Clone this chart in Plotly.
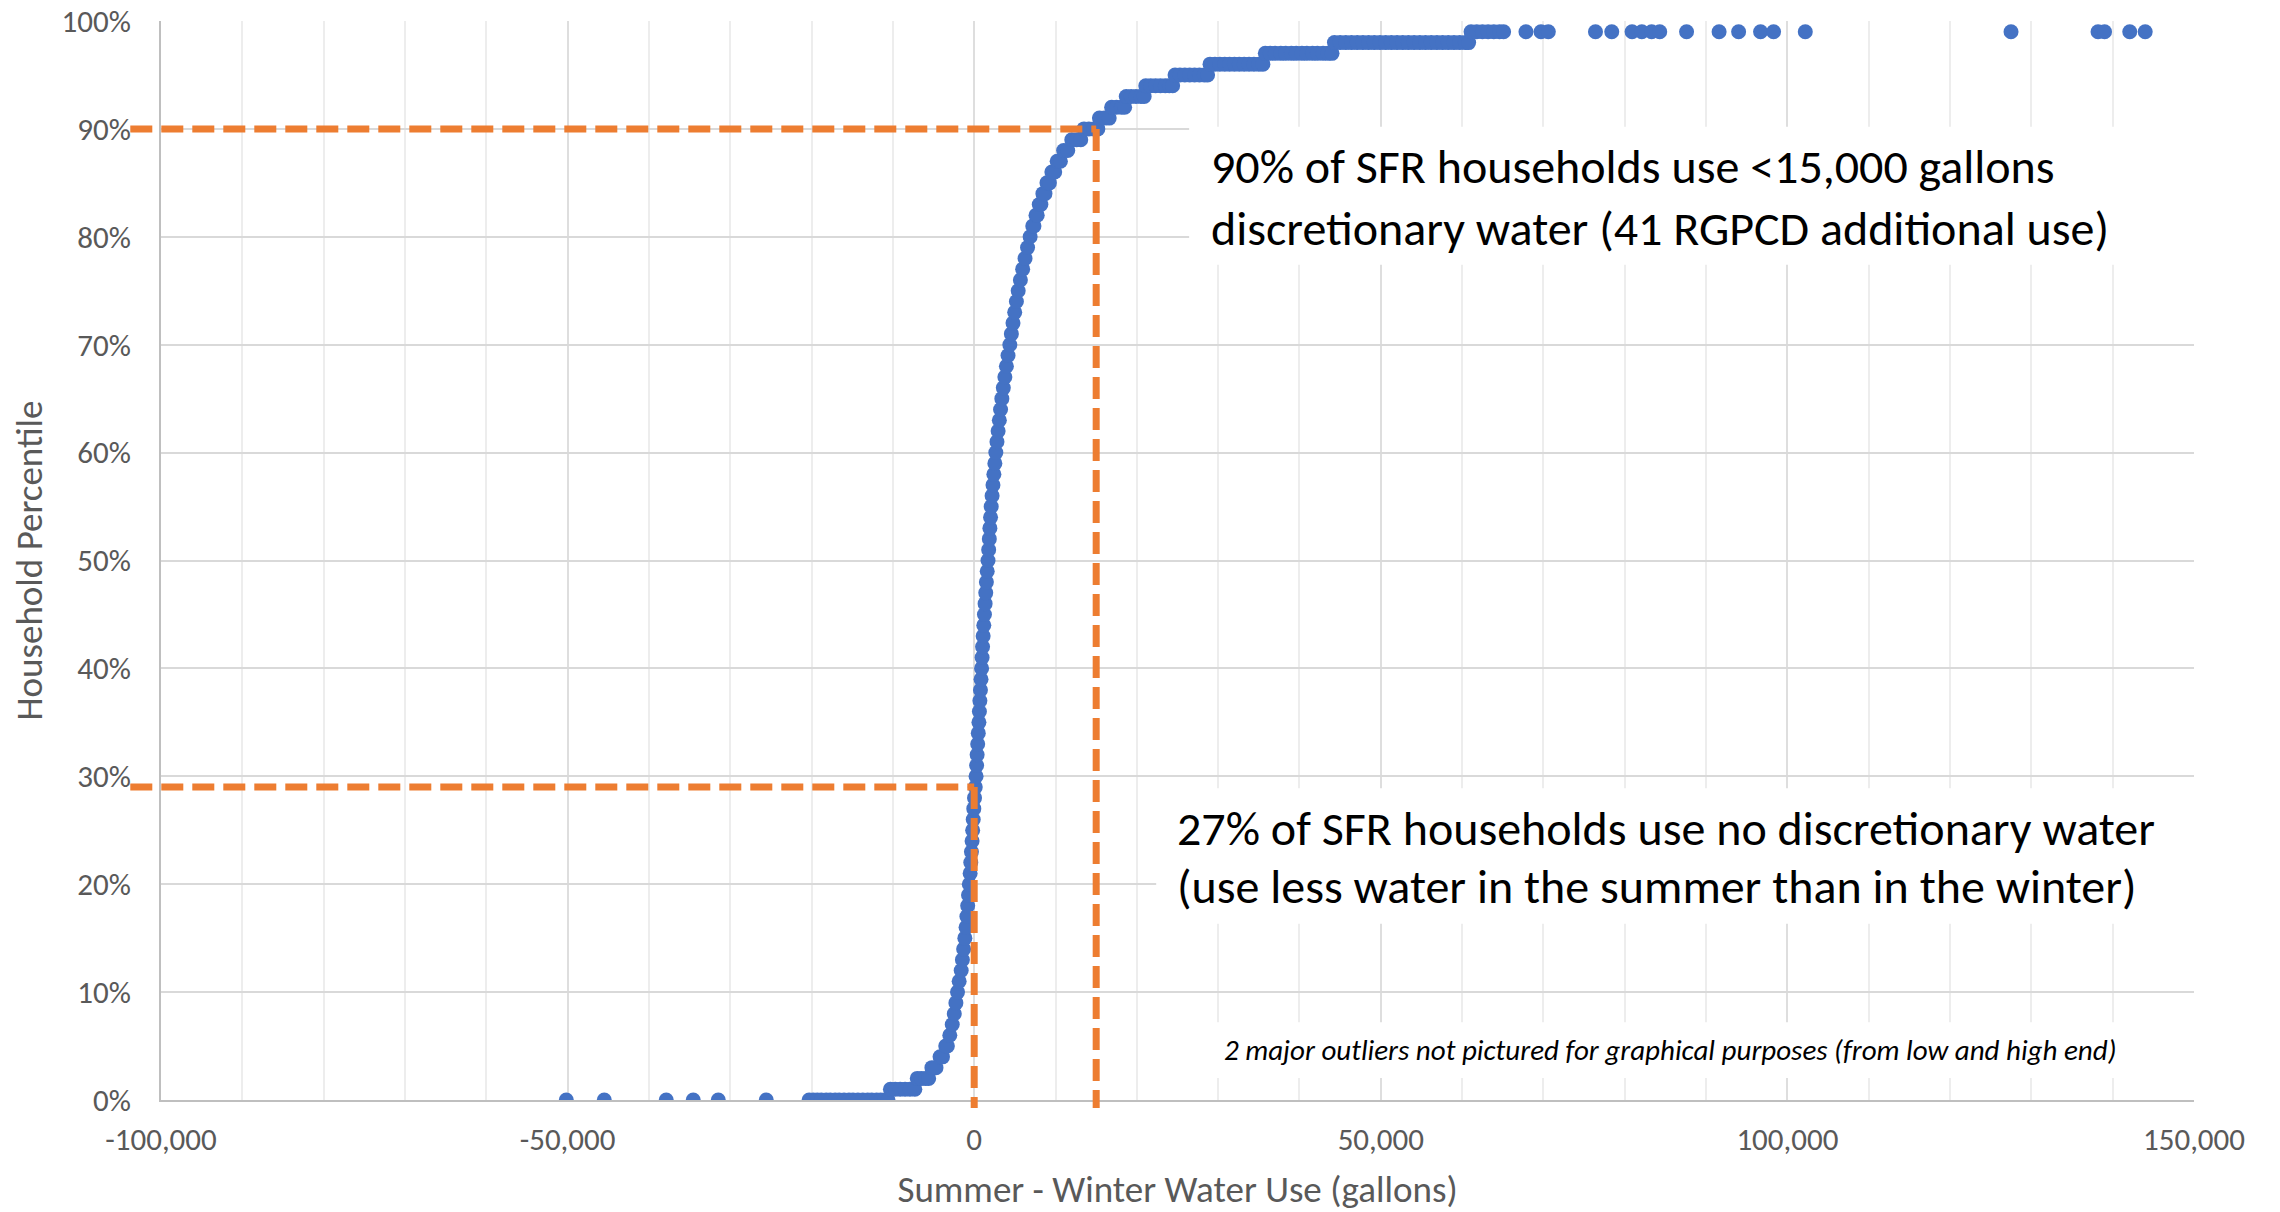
import plotly.graph_objects as go

# ---------------- data ----------------
household_pct = [
    0, 0, 0, 0, 0, 0,
    0, 0, 0, 0, 0, 0, 0, 0, 0, 0,
    0, 0, 0, 0, 0, 0, 0, 0, 0,
    1, 1, 1, 1, 1, 1,
    2, 2, 2, 2,
    3, 3, 4, 4, 5, 5,
    6, 7, 8, 9, 10, 11, 12, 13, 14, 15,
    16, 17, 18, 19, 20, 21, 22, 23, 24, 25, 26, 27,
    28, 29, 30, 31, 32, 33, 34, 35, 36, 37, 38, 39,
    40, 41, 42, 43, 44, 45, 46, 47, 48, 49, 50, 51,
    52, 53, 54, 55, 56, 57, 58, 59, 60, 61, 62, 63,
    64, 65, 66, 67, 68, 69, 70, 71, 72, 73, 74, 75,
    76, 77, 78, 79, 80,
    81, 81, 82, 82, 83, 83, 84, 84,
    85, 85, 86, 86, 87, 87, 88, 88,
    89, 89, 89, 90, 90, 90, 90,
    91, 91, 91, 92, 92, 92, 92,
    93, 93, 93, 93, 93,
    94, 94, 94, 94, 94, 94, 94,
    95, 95, 95, 95, 95, 95, 95, 95,
    96, 96, 96, 96, 96, 96, 96, 96, 96, 96, 96, 96,
    97, 97, 97, 97, 97, 97, 97, 97, 97, 97, 97, 97, 97, 97,
    98, 98, 98, 98, 98, 98, 98, 98, 98, 98, 98, 98, 98,
    98, 98, 98, 98, 98, 98, 98, 98, 98, 98, 98, 98,
    99, 99, 99, 99, 99, 99, 99,
    99, 99, 99, 99, 99, 99, 99, 99, 99, 99,
    99, 99, 99, 99, 99, 99, 99, 99, 99, 99,
]

water_use_gal = [
    -50160, -45490, -37870, -34550, -31470, -25570,
    -20300, -19800, -19300, -18800, -18200, -17700, -17100, -16600, -16000, -15400,
    -14900, -14300, -13700, -13100, -12600, -12000, -11500, -11000, -10600,
    -10300, -9700, -9100, -8500, -7900, -7300,
    -7000, -6500, -6000, -5600,
    -5200, -4700, -4200, -3900, -3500, -3300,
    -3000, -2700, -2450, -2250, -2050, -1850, -1600, -1450, -1300, -1150,
    -1000, -900, -800, -700, -600, -500, -420, -340, -260, -190, -120, -50,
    40, 130, 230, 300, 360, 430, 500, 580, 640, 700, 770, 840,
    910, 970, 1030, 1100, 1180, 1260, 1340, 1420, 1500, 1600, 1700, 1780,
    1860, 1930, 2010, 2090, 2200, 2310, 2420, 2540, 2660, 2800, 2940, 3090,
    3240, 3400, 3580, 3770, 3960, 4160, 4380, 4570, 4770, 4980, 5190, 5410,
    5680, 5960, 6250, 6560, 6880,
    7200, 7350, 7600, 7750, 8000, 8200, 8450, 8700,
    8950, 9250, 9550, 9900, 10200, 10600, 11000, 11500,
    12000, 12600, 13100, 13500, 14100, 14700, 15200,
    15400, 16000, 16600, 16900, 17500, 18100, 18500,
    18700, 19300, 19900, 20500, 20900,
    21100, 21700, 22300, 22900, 23500, 24000, 24400,
    24700, 25300, 25900, 26500, 27100, 27700, 28300, 28700,
    29000, 29600, 30200, 30800, 31400, 32000, 32600, 33200, 33800, 34400, 35000, 35500,
    35800, 36400, 37000, 37700, 38300, 39000, 39600, 40300, 40900, 41600, 42200, 42900, 43500, 44000,
    44300, 45000, 45700, 46400, 47100, 47800, 48500, 49200, 49900, 50600, 51300, 52000, 52700,
    53400, 54100, 54800, 55500, 56200, 56900, 57600, 58300, 59000, 59700, 60400, 60800,
    61100, 61800, 62500, 63200, 63900, 64600, 65100,
    67850, 69700, 70600, 76400, 78400, 80900, 82100, 83300, 84300, 87600,
    91600, 94000, 96700, 98300, 102200, 127500, 138200, 139000, 142100, 144000,
]

assert len(household_pct) == len(water_use_gal)

x_tick_vals = [-100000, -50000, 0, 50000, 100000, 150000]
x_tick_text = ["-100,000", "-50,000", "0", "50,000", "100,000", "150,000"]
y_tick_vals = [0, 0.1, 0.2, 0.3, 0.4, 0.5, 0.6, 0.7, 0.8, 0.9, 1.0]
y_tick_text = ["0%", "10%", "20%", "30%", "40%", "50%", "60%", "70%", "80%", "90%", "100%"]

# reference markers (threshold lines)
high_threshold_gal = 15000
high_threshold_pct = 0.90
zero_threshold_gal = 0
zero_threshold_pct = 0.29

X_MIN, X_MAX = -100000, 150000

FONT = "Carlito, Lato, sans-serif"
GREY = "#595959"
ORANGE = "#ED7D31"
BLUE = "#4472C4"

fig = go.Figure()
fig.add_trace(go.Scatter(
    x=water_use_gal,
    y=[p / 100 for p in household_pct],
    mode="markers",
    marker=dict(color=BLUE, size=15, line=dict(width=0)),
    showlegend=False,
    hoverinfo="x+y",
))


def px(v):
    return (v - X_MIN) / (X_MAX - X_MIN)


LEFT_START = -0.0151
BOTTOM_END = -0.0074
dash = dict(color=ORANGE, width=7, dash="22px,9px")

shapes = [
    # white text boxes (cover gridlines, below traces)
    dict(type="rect", xref="x", yref="y", x0=26430, x1=152000, y0=0.774, y1=0.902,
         fillcolor="white", line=dict(width=0), layer="between"),
    dict(type="rect", xref="x", yref="y", x0=22380, x1=152000, y0=0.1634, y1=0.289,
         fillcolor="white", line=dict(width=0), layer="between"),
    dict(type="rect", xref="x", yref="y", x0=27780, x1=152000, y0=0.0203, y1=0.072,
         fillcolor="white", line=dict(width=0), layer="between"),
    # dashed threshold lines
    dict(type="line", xref="paper", yref="paper", x0=LEFT_START, x1=px(high_threshold_gal),
         y0=high_threshold_pct, y1=high_threshold_pct, line=dash, layer="above"),
    dict(type="line", xref="paper", yref="paper", x0=px(high_threshold_gal), x1=px(high_threshold_gal),
         y0=high_threshold_pct, y1=BOTTOM_END, line=dash, layer="above"),
    dict(type="line", xref="paper", yref="paper", x0=LEFT_START, x1=px(zero_threshold_gal),
         y0=zero_threshold_pct, y1=zero_threshold_pct, line=dash, layer="above"),
    dict(type="line", xref="paper", yref="paper", x0=px(zero_threshold_gal), x1=px(zero_threshold_gal),
         y0=zero_threshold_pct, y1=BOTTOM_END, line=dash, layer="above"),
]

big = dict(family=FONT, size=48, color="black")
annotations = [
    dict(text="90% of SFR households use &lt;15,000 gallons", x=0.5156, y=0.865,
         xref="paper", yref="paper", xanchor="left", yanchor="middle", showarrow=False, font=big),
    dict(text="discretionary water (41 RGPCD additional use)", x=0.5156, y=0.808,
         xref="paper", yref="paper", xanchor="left", yanchor="middle", showarrow=False, font=big),
    dict(text="27% of SFR households use no discretionary water", x=0.4988, y=0.2516,
         xref="paper", yref="paper", xanchor="left", yanchor="middle", showarrow=False, font=big),
    dict(text="(use less water in the summer than in the winter)", x=0.4988, y=0.198,
         xref="paper", yref="paper", xanchor="left", yanchor="middle", showarrow=False, font=big),
    dict(text="<i>2 major outliers not pictured for graphical purposes (from low and high end)</i>",
         x=0.7423, y=0.046, xref="paper", yref="paper", xanchor="center", yanchor="middle",
         showarrow=False, font=dict(family=FONT, size=29, color="black")),
]

fig.update_layout(
    width=2280, height=1212, autosize=False,
    margin=dict(l=161, r=86, t=21, b=112, pad=0),
    paper_bgcolor="white", plot_bgcolor="white",
    font=dict(family=FONT, color=GREY),
    shapes=shapes,
    annotations=annotations,
    xaxis=dict(
        range=[X_MIN, X_MAX], automargin=False, ticklabeloverflow="allow",
        tickmode="array", tickvals=x_tick_vals, ticktext=x_tick_text,
        tickfont=dict(family=FONT, size=31, color=GREY),
        ticks="", ticklabelstandoff=11,
        showgrid=True, gridcolor="#DEDEDE", gridwidth=2,
        minor=dict(tickmode="linear", tick0=0, dtick=10000, showgrid=True,
                   gridcolor="#EDEDED", gridwidth=2, ticks=""),
        zeroline=False,
        showline=True, linecolor="#BFBFBF", linewidth=2,
        title=dict(text="Summer - Winter Water Use (gallons)",
                   font=dict(family=FONT, size=37, color=GREY), standoff=22),
    ),
    yaxis=dict(
        range=[0, 1], automargin=False, ticklabeloverflow="allow",
        tickmode="array", tickvals=y_tick_vals, ticktext=y_tick_text,
        tickfont=dict(family=FONT, size=31, color=GREY),
        ticks="", ticklabelstandoff=22,
        showgrid=True, gridcolor="#D9D9D9", gridwidth=2,
        zeroline=False,
        showline=True, linecolor="#BFBFBF", linewidth=2,
        title=dict(text="Household Percentile",
                   font=dict(family=FONT, size=37, color=GREY), standoff=8),
    ),
)

fig.write_html("out.html", config={"displayModeBar": False},
               post_script="document.body.style.margin='0';")
